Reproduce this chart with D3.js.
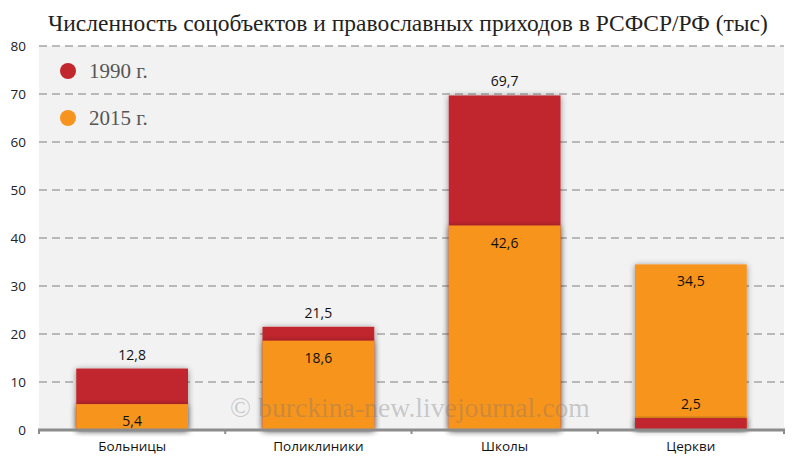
<!DOCTYPE html>
<html><head><meta charset="utf-8">
<script src="https://cdn.jsdelivr.net/npm/d3@7"></script>
<style>body{margin:0;background:#fff}svg{display:block}</style>
</head><body>
<svg id="c" width="800" height="465"></svg>
<script>
const categories = ["Больницы", "Поликлиники", "Школы", "Церкви"];
const values1990 = [12.8, 21.5, 69.7, 2.5];
const values2015 = [5.4, 18.6, 42.6, 34.5];
const seriesNames = ["1990 г.", "2015 г."];
const yTicks = [0, 10, 20, 30, 40, 50, 60, 70, 80];
const title = "Численность соцобъектов и православных приходов в РСФСР/РФ (тыс)";
const watermark = "© burckina-new.livejournal.com";

const colors = ["#c1272d", "#f7941f"];
const svg = d3.select("#c");
const pLeft = 39, pRight = 784, pTop = 46, pBottom = 430;

const defs = svg.append("defs");
const f = defs.append("filter").attr("id","sh").attr("x","-20%").attr("y","-20%").attr("width","140%").attr("height","140%");
f.append("feGaussianBlur").attr("in","SourceAlpha").attr("stdDeviation",3).attr("result","b");
f.append("feOffset").attr("in","b").attr("dx",0).attr("dy",1).attr("result","o");
f.append("feComponentTransfer").attr("in","o").attr("result","o2").append("feFuncA").attr("type","linear").attr("slope",0.45);
const m = f.append("feMerge"); m.append("feMergeNode").attr("in","o2"); m.append("feMergeNode").attr("in","SourceGraphic");

const x = d3.scaleBand().domain(categories).range([pLeft, pRight]).paddingInner(0.4).paddingOuter(0.2);
const y = d3.scaleLinear().domain([0, 80]).range([pBottom, pTop]);

svg.append("rect").attr("x", pLeft).attr("y", pTop).attr("width", pRight-pLeft).attr("height", pBottom-pTop).attr("fill", "#f2f2f2");

// gridlines
svg.append("g").selectAll("line").data(yTicks.filter(d=>d>0)).join("line")
  .attr("x1", pLeft).attr("x2", pRight).attr("y1", d=>y(d)).attr("y2", d=>y(d))
  .attr("stroke", "#a6a6a6").attr("stroke-width", 1.3).attr("stroke-dasharray", "8,5");

// y axis labels
const yAxis = d3.axisLeft(y).tickValues(yTicks).tickSize(0).tickPadding(0).tickFormat(d3.format("d"));
const ya = svg.append("g").attr("transform", `translate(${26},0)`).call(yAxis);
ya.select(".domain").remove();
ya.selectAll("text").attr("font-family", "Open Sans, sans-serif").attr("font-size", 13.5).attr("fill", "#222");

// bars: larger behind, smaller in front
const rows = categories.map((c,i)=>({c, v:[values1990[i], values2015[i]]}));
const g = svg.append("g");
rows.forEach(r=>{
  const order = [0,1].sort((a,b)=>r.v[b]-r.v[a]);
  order.forEach(s=>{
    g.append("rect").attr("x", x(r.c)).attr("width", x.bandwidth())
      .attr("y", y(r.v[s])).attr("height", y(0)-y(r.v[s]))
      .attr("fill", colors[s]).attr("filter","url(#sh)");
  });
});

// watermark (over bars)
const wm = svg.append("text").attr("x", 410).attr("y", 417).attr("text-anchor","middle")
  .attr("font-family","Liberation Serif, serif").attr("font-size", 25).attr("fill","#777").attr("fill-opacity",0.35)
  .text(watermark);
const ww = wm.node().getComputedTextLength();
wm.attr("font-size", 25*360/ww);

// labels
const fmt = v => String(v).replace(".", ",");
rows.forEach(r=>{
  svg.append("text").attr("x", x(r.c)+x.bandwidth()/2).attr("y", y(r.v[0]) - 9)
    .attr("text-anchor","middle").attr("font-family","Open Sans, sans-serif").attr("font-size",14).attr("fill","#111").text(fmt(r.v[0]));
  svg.append("text").attr("x", x(r.c)+x.bandwidth()/2).attr("y", y(r.v[1]) + 22)
    .attr("text-anchor","middle").attr("font-family","Open Sans, sans-serif").attr("font-size",14).attr("fill","#111").text(fmt(r.v[1]));
});

// x axis
svg.append("line").attr("x1", pLeft-1).attr("x2", pRight+1).attr("y1", pBottom).attr("y2", pBottom)
  .attr("stroke","#8c8c8c").attr("stroke-width",3);
const bounds = d3.range(categories.length+1).map(i=>pLeft + i*(pRight-pLeft)/categories.length);
svg.append("g").selectAll("line").data(bounds).join("line")
  .attr("x1", d=>d).attr("x2", d=>d).attr("y1", pBottom).attr("y2", pBottom+4)
  .attr("stroke","#8c8c8c").attr("stroke-width",2);
const xAxis = d3.axisBottom(x).tickSize(0).tickPadding(0);
const xa = svg.append("g").attr("transform", `translate(0,${pBottom+11})`).call(xAxis);
xa.select(".domain").remove();
xa.selectAll("text").attr("font-family","Open Sans, sans-serif").attr("font-size",13.5).attr("fill","#111");

// legend
seriesNames.forEach((n,i)=>{
  const cy = 71 + i*47;
  svg.append("circle").attr("cx", 68).attr("cy", cy).attr("r", 8).attr("fill", colors[i]);
  svg.append("text").attr("x", 89).attr("y", cy+7).attr("font-family","Liberation Serif, serif").attr("font-size",21).attr("fill","#555").text(n);
});

// title
const t = svg.append("text").attr("x", 48).attr("y", 31).attr("font-family","Liberation Serif, serif").attr("font-size",23).attr("fill","#222").text(title);
const w = t.node().getComputedTextLength();
t.attr("font-size", 23*720/w);
</script>
</body></html>
